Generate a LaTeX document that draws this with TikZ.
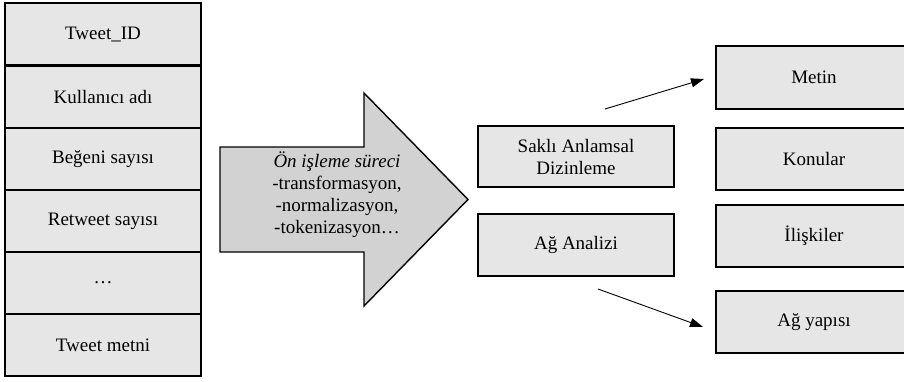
\documentclass[tikz,border=0pt]{standalone}
\usepackage{fontspec}
\setmainfont{Liberation Serif}
\usetikzlibrary{arrows.meta}
\definecolor{boxfill}{HTML}{E6E6E6}
\definecolor{arrowfill}{HTML}{D2D2D2}
\tikzset{
  cell/.style={draw=black, line width=1.4pt, fill=boxfill},
  link/.style={draw=black, line width=0.9pt, -{Triangle[length=13pt,width=9pt]}},
  lbl/.style={font=\fontsize{19}{22}\selectfont, align=center, inner sep=0pt},
}
\begin{document}
\begin{tikzpicture}[x=1pt,y=-1pt]
\useasboundingbox (0,0) rectangle (904,381);
\clip (0,0) rectangle (904,381);
% left column
\foreach \y in {3,66,128,190,252,314}{
  \draw[cell] (5,\y) rectangle ++(196,62);
}
\node[lbl] (c1) at (103,34.5) {Tweet\_ID};
\node[lbl] (c2) at (103,97) {Kullanıcı adı};
\node[lbl] (c3) at (103,159) {Beğeni sayısı};
\node[lbl] (c4) at (103,221) {Retweet sayısı};
\node[lbl] (c5) at (103,283) {…};
\node[lbl] (c6) at (103,345) {Tweet metni};
% big arrow
\draw[line width=1.4pt, fill=arrowfill, line join=miter]
  (220,147) -- (364,147) -- (364,93) -- (468,199.5) -- (364,306) -- (364,252) -- (220,252) -- cycle;
\node[lbl] (proc) at (337,195) {\textit{Ön işleme süreci}\\-transformasyon,\\-normalizasyon,\\-tokenizasyon…};
% middle boxes
\draw[cell] (478,126) rectangle (674,187);
\node[lbl] (lsi) at (576,156.5) {Saklı Anlamsal\\Dizinleme};
\draw[cell] (478,214) rectangle (674,276);
\node[lbl] (ag) at (576,245) {Ağ Analizi};
% right boxes
\draw[cell] (716,46) rectangle (912,109);
\node[lbl] (metin) at (814,77.5) {Metin};
\draw[cell] (716,128) rectangle (912,190);
\node[lbl] (konu) at (814,159) {Konular};
\draw[cell] (716,205) rectangle (912,267);
\node[lbl] (ilis) at (814,236) {İlişkiler};
\draw[cell] (716,291) rectangle (912,353);
\node[lbl] (agy) at (814,322) {Ağ yapısı};
% connectors
\coordinate (a1s) at (605,109);
\coordinate (a1e) at (704,79);
\coordinate (a2s) at (598,289);
\coordinate (a2e) at (703,327);
\draw[link] (a1s) -- (a1e);
\draw[link] (a2s) -- (a2e);
\end{tikzpicture}
\end{document}
